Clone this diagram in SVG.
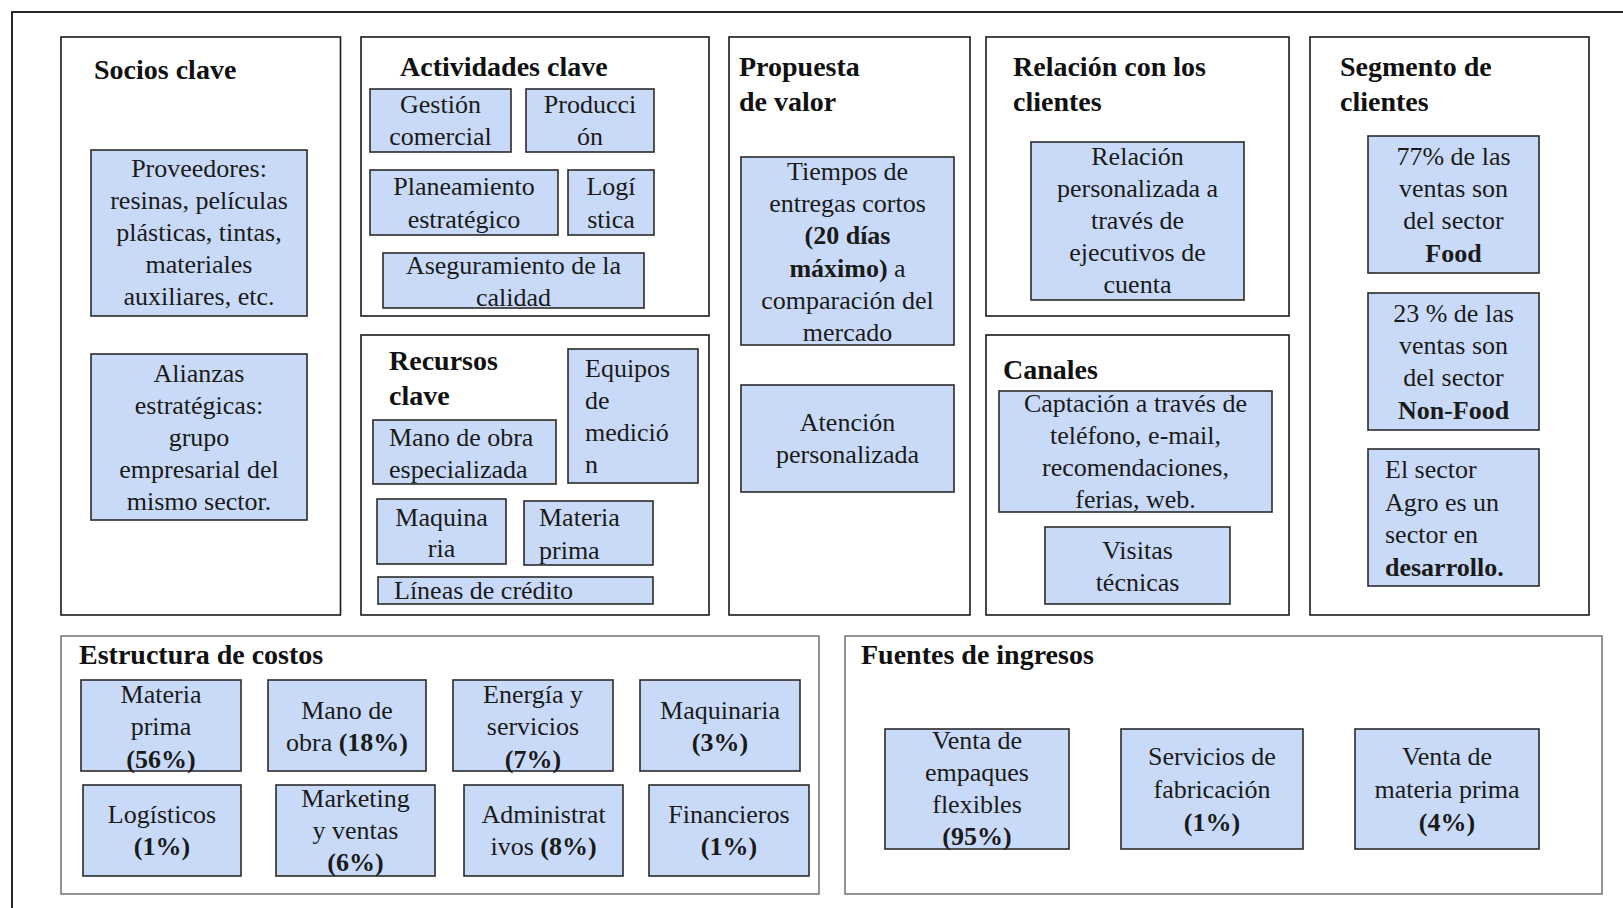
<svg xmlns="http://www.w3.org/2000/svg" width="1623" height="908" viewBox="0 0 1623 908">
  <style>
    .panel { fill: #ffffff; stroke: #1a1a1a; stroke-width: 1.6; }
    .panel-soft { fill: #ffffff; stroke: #7a7a7a; stroke-width: 1.6; }
    .card { fill: #c9daf8; stroke: #2b2b2b; stroke-width: 1.6; }
    .title { font-family: "Liberation Serif", "Times New Roman", serif; font-size: 28px; font-weight: bold; fill: #111; }
    .txt { font-family: "Liberation Serif", "Times New Roman", serif; font-size: 26px; fill: #1a1a1a; }
    .c { text-anchor: middle; }
    .b { font-weight: bold; }
  </style>

  <rect width="1623" height="908" fill="#ffffff"/>
  <!-- outer frame -->
  <rect x="12" y="12" width="1640" height="920" fill="none" stroke="#2a2a2a" stroke-width="2"/>

  <!-- Socios clave -->
  <g id="socios-clave">
    <rect class="panel" x="61" y="37" width="279.5" height="578"/>
    <text class="title" x="94" y="79">Socios clave</text>
    <rect class="card" x="91" y="150" width="216" height="166"/>
    <text class="txt c" x="199" y="177">Proveedores:</text>
    <text class="txt c" x="199" y="209">resinas, películas</text>
    <text class="txt c" x="199" y="241">plásticas, tintas,</text>
    <text class="txt c" x="199" y="273">materiales</text>
    <text class="txt c" x="199" y="305">auxiliares, etc.</text>
    <rect class="card" x="91" y="354" width="216" height="166"/>
    <text class="txt c" x="199" y="382">Alianzas</text>
    <text class="txt c" x="199" y="414">estratégicas:</text>
    <text class="txt c" x="199" y="446">grupo</text>
    <text class="txt c" x="199" y="478">empresarial del</text>
    <text class="txt c" x="199" y="510">mismo sector.</text>
  </g>

  <!-- Actividades clave -->
  <g id="actividades-clave">
    <rect class="panel" x="361" y="37" width="348" height="279"/>
    <text class="title" x="400" y="76">Actividades clave</text>
    <rect class="card" x="370" y="89" width="141" height="63"/>
    <text class="txt c" x="440.5" y="113">Gestión</text>
    <text class="txt c" x="440.5" y="145">comercial</text>
    <rect class="card" x="526" y="89" width="128" height="63"/>
    <text class="txt c" x="590" y="113">Producci</text>
    <text class="txt c" x="590" y="145">ón</text>
    <rect class="card" x="370" y="170" width="188" height="65"/>
    <text class="txt c" x="464" y="195">Planeamiento</text>
    <text class="txt c" x="464" y="228">estratégico</text>
    <rect class="card" x="568" y="170" width="86" height="65"/>
    <text class="txt c" x="611" y="195">Logí</text>
    <text class="txt c" x="611" y="228">stica</text>
    <rect class="card" x="383" y="253" width="261" height="55"/>
    <text class="txt c" x="513.5" y="274">Aseguramiento de la</text>
    <text class="txt c" x="513.5" y="306">calidad</text>
  </g>

  <!-- Recursos clave -->
  <g id="recursos-clave">
    <rect class="panel" x="361" y="335" width="348" height="280"/>
    <text class="title" x="389" y="370">Recursos</text>
    <text class="title" x="389" y="405">clave</text>
    <rect class="card" x="568" y="349" width="130" height="134"/>
    <text class="txt" x="585" y="377">Equipos</text>
    <text class="txt" x="585" y="409">de</text>
    <text class="txt" x="585" y="441">medició</text>
    <text class="txt" x="585" y="473">n</text>
    <rect class="card" x="373" y="420" width="183" height="64"/>
    <text class="txt" x="389" y="446">Mano de obra</text>
    <text class="txt" x="389" y="478">especializada</text>
    <rect class="card" x="377" y="499" width="129" height="65"/>
    <text class="txt c" x="441.5" y="526">Maquina</text>
    <text class="txt c" x="441.5" y="557">ria</text>
    <rect class="card" x="524" y="501" width="129" height="64"/>
    <text class="txt" x="539" y="526">Materia</text>
    <text class="txt" x="539" y="559">prima</text>
    <rect class="card" x="378" y="577" width="275" height="27"/>
    <text class="txt" x="394" y="599">Líneas de crédito</text>
  </g>

  <!-- Propuesta de valor -->
  <g id="propuesta-de-valor">
    <rect class="panel" x="729" y="37" width="241" height="578"/>
    <text class="title" x="739" y="76">Propuesta</text>
    <text class="title" x="739" y="111">de valor</text>
    <rect class="card" x="741" y="157" width="213" height="188"/>
    <text class="txt c" x="847.5" y="180">Tiempos de</text>
    <text class="txt c" x="847.5" y="212">entregas cortos</text>
    <text class="txt c b" x="847.5" y="244">(20 días</text>
    <text class="txt c" x="847.5" y="277"><tspan class="b">máximo)</tspan> a</text>
    <text class="txt c" x="847.5" y="309">comparación del</text>
    <text class="txt c" x="847.5" y="341">mercado</text>
    <rect class="card" x="741" y="385" width="213" height="107"/>
    <text class="txt c" x="847.5" y="431">Atención</text>
    <text class="txt c" x="847.5" y="463">personalizada</text>
  </g>

  <!-- Relación con los clientes -->
  <g id="relacion-clientes">
    <rect class="panel" x="986" y="37" width="303" height="279"/>
    <text class="title" x="1013" y="76">Relación con los</text>
    <text class="title" x="1013" y="111">clientes</text>
    <rect class="card" x="1031" y="142" width="213" height="158"/>
    <text class="txt c" x="1137.5" y="165">Relación</text>
    <text class="txt c" x="1137.5" y="197">personalizada a</text>
    <text class="txt c" x="1137.5" y="229">través de</text>
    <text class="txt c" x="1137.5" y="261">ejecutivos de</text>
    <text class="txt c" x="1137.5" y="293">cuenta</text>
  </g>

  <!-- Canales -->
  <g id="canales">
    <rect class="panel" x="986" y="335" width="303" height="280"/>
    <text class="title" x="1003" y="379">Canales</text>
    <rect class="card" x="999" y="391" width="273" height="121"/>
    <text class="txt c" x="1135.5" y="412">Captación a través de</text>
    <text class="txt c" x="1135.5" y="444">teléfono, e-mail,</text>
    <text class="txt c" x="1135.5" y="476">recomendaciones,</text>
    <text class="txt c" x="1135.5" y="508">ferias, web.</text>
    <rect class="card" x="1045" y="527" width="185" height="77"/>
    <text class="txt c" x="1137.5" y="559">Visitas</text>
    <text class="txt c" x="1137.5" y="591">técnicas</text>
  </g>

  <!-- Segmento de clientes -->
  <g id="segmento-clientes">
    <rect class="panel" x="1310" y="37" width="279" height="578"/>
    <text class="title" x="1340" y="76">Segmento de</text>
    <text class="title" x="1340" y="111">clientes</text>
    <rect class="card" x="1368" y="136" width="171" height="137"/>
    <text class="txt c" x="1453.5" y="165">77% de las</text>
    <text class="txt c" x="1453.5" y="197">ventas son</text>
    <text class="txt c" x="1453.5" y="229">del sector</text>
    <text class="txt c b" x="1453.5" y="262">Food</text>
    <rect class="card" x="1368" y="293" width="171" height="137"/>
    <text class="txt c" x="1453.5" y="322">23 % de las</text>
    <text class="txt c" x="1453.5" y="354">ventas son</text>
    <text class="txt c" x="1453.5" y="386">del sector</text>
    <text class="txt c b" x="1453.5" y="419">Non-Food</text>
    <rect class="card" x="1368" y="449" width="171" height="137"/>
    <text class="txt" x="1385" y="478">El sector</text>
    <text class="txt" x="1385" y="511">Agro es un</text>
    <text class="txt" x="1385" y="543">sector en</text>
    <text class="txt b" x="1385" y="576">desarrollo.</text>
  </g>

  <!-- Estructura de costos -->
  <g id="estructura-costos">
    <rect class="panel-soft" x="61" y="636" width="758" height="258"/>
    <text class="title" x="79" y="664">Estructura de costos</text>
    <rect class="card" x="81" y="680" width="160" height="91"/>
    <text class="txt c" x="161" y="703">Materia</text>
    <text class="txt c" x="161" y="735">prima</text>
    <text class="txt c b" x="161" y="768">(56%)</text>
    <rect class="card" x="268" y="680" width="158" height="91"/>
    <text class="txt c" x="347" y="719">Mano de</text>
    <text class="txt c" x="347" y="751">obra <tspan class="b">(18%)</tspan></text>
    <rect class="card" x="453" y="680" width="160" height="91"/>
    <text class="txt c" x="533" y="703">Energía y</text>
    <text class="txt c" x="533" y="735">servicios</text>
    <text class="txt c b" x="533" y="768">(7%)</text>
    <rect class="card" x="640" y="680" width="160" height="91"/>
    <text class="txt c" x="720" y="719">Maquinaria</text>
    <text class="txt c b" x="720" y="751">(3%)</text>
    <rect class="card" x="83" y="785" width="158" height="91"/>
    <text class="txt c" x="162" y="823">Logísticos</text>
    <text class="txt c b" x="162" y="855">(1%)</text>
    <rect class="card" x="276" y="785" width="159" height="91"/>
    <text class="txt c" x="355.5" y="807">Marketing</text>
    <text class="txt c" x="355.5" y="839">y ventas</text>
    <text class="txt c b" x="355.5" y="871">(6%)</text>
    <rect class="card" x="464" y="785" width="159" height="91"/>
    <text class="txt c" x="543.5" y="823">Administrat</text>
    <text class="txt c" x="543.5" y="855">ivos <tspan class="b">(8%)</tspan></text>
    <rect class="card" x="649" y="785" width="160" height="91"/>
    <text class="txt c" x="729" y="823">Financieros</text>
    <text class="txt c b" x="729" y="855">(1%)</text>
  </g>

  <!-- Fuentes de ingresos -->
  <g id="fuentes-ingresos">
    <rect class="panel-soft" x="845" y="636" width="757" height="258"/>
    <text class="title" x="861" y="664">Fuentes de ingresos</text>
    <rect class="card" x="885" y="729" width="184" height="120"/>
    <text class="txt c" x="977" y="749">Venta de</text>
    <text class="txt c" x="977" y="781">empaques</text>
    <text class="txt c" x="977" y="813">flexibles</text>
    <text class="txt c b" x="977" y="845">(95%)</text>
    <rect class="card" x="1121" y="729" width="182" height="120"/>
    <text class="txt c" x="1212" y="765">Servicios de</text>
    <text class="txt c" x="1212" y="798">fabricación</text>
    <text class="txt c b" x="1212" y="831">(1%)</text>
    <rect class="card" x="1355" y="729" width="184" height="120"/>
    <text class="txt c" x="1447" y="765">Venta de</text>
    <text class="txt c" x="1447" y="798">materia prima</text>
    <text class="txt c b" x="1447" y="831">(4%)</text>
  </g>
</svg>
